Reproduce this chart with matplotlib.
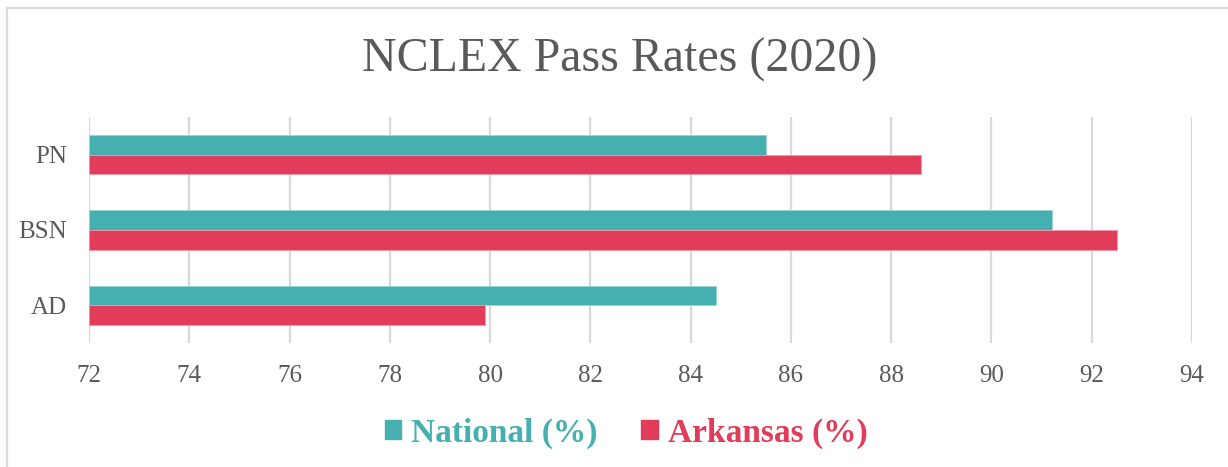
import numpy as np
import matplotlib
matplotlib.use('Agg')
import matplotlib.pyplot as plt
from matplotlib.patches import Patch
from matplotlib.lines import Line2D

categories = ["AD", "BSN", "PN"]
national = [84.5, 91.2, 85.5]
arkansas = [79.9, 92.5, 88.6]
xticks = list(range(72, 95, 2))

teal = "#46AFAF"
red = "#E13C5A"
grey = "#595959"
plt.rcParams['font.family'] = ['Liberation Serif', 'DejaVu Serif']

W, H = 1228, 467
fig = plt.figure(figsize=(W/100., H/100.), dpi=100)
ax = fig.add_axes([89./W, 1-343./H, (1192.-89)/W, (343.-117)/H])

y = np.arange(len(categories))
h = 0.263
ax.barh(y + h/2, np.array(national) - 72, h, left=72, color=teal, edgecolor="#9ED3D3", linewidth=0.6, zorder=3)
ax.barh(y - h/2, np.array(arkansas) - 72, h, left=72, color=red, edgecolor="#EE9AAA", linewidth=0.6, zorder=3)

ax.set_xlim(72, 94)
ax.set_ylim(-0.5, 2.5)
ax.set_xticks(xticks)
ax.set_yticks(y)
ax.set_yticklabels(categories)
ax.grid(axis='x', color="#D9D9D9", linewidth=1.6, zorder=0)
for s in ax.spines.values():
    s.set_visible(False)
ax.tick_params(axis='both', length=0, labelsize=18, colors=grey)
ax.tick_params(axis='x', pad=16)
ax.tick_params(axis='y', pad=16)

fig.text(620./W, 1-60./H, "NCLEX Pass Rates (2020)", ha='center', va='center', fontsize=34.5, color=grey)

handles = [Patch(color=teal), Patch(color=red)]
leg = fig.legend(handles, ["National (%)", "Arkansas (%)"], loc='center',
                 bbox_to_anchor=(626./W, 1-433./H), ncol=2, frameon=False,
                 prop={'size': 24, 'weight': 'bold'}, handlelength=0.5, handleheight=0.5,
                 handletextpad=0.3, columnspacing=1.3)
for t, c in zip(leg.get_texts(), [teal, red]):
    t.set_color(c)

# chart area border (left and top visible)
fig.add_artist(Line2D([7./W, 7./W], [0, 1-8./H], color="#D9D9D9", linewidth=1.6))
fig.add_artist(Line2D([7./W, 1], [1-8./H, 1-8./H], color="#D9D9D9", linewidth=1.6))

plt.savefig("out.png", dpi=100)
